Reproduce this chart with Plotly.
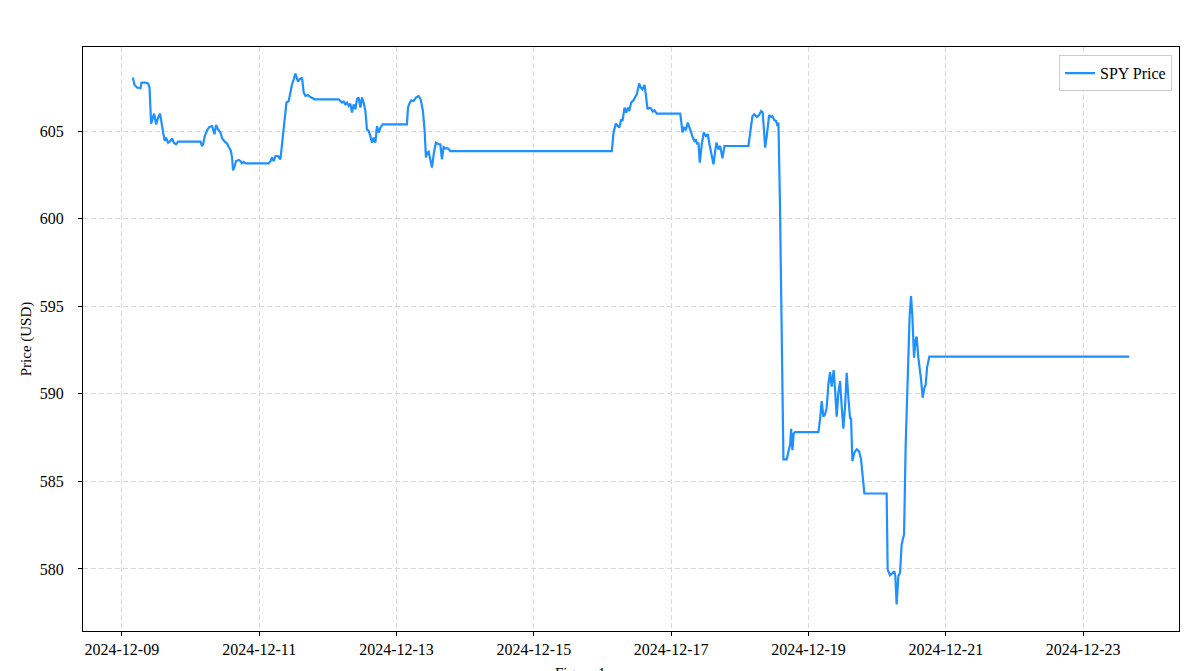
import pandas as pd
import plotly.graph_objects as go

# hours elapsed since 2024-12-09 00:00 and SPY price (USD)
hours = [
    3.84, 4.44, 5.34, 6.53, 6.88, 8.28, 9.19, 9.68, 10.23, 10.83, 11.28, 11.98, 12.68, 13.38, 13.87,
    14.43, 15.02, 15.47, 16.17, 17.01, 17.57, 18.16, 18.97, 19.67, 27.49, 28.05, 28.40, 28.99, 29.80,
    30.63, 31.54, 32.38, 32.94, 33.64, 34.48, 35.03, 35.98, 36.78, 37.38, 38.07, 38.53, 38.88, 39.47,
    39.92, 40.87, 41.46, 42.02, 42.61, 43.21, 51.35, 51.94, 52.50, 53.09, 53.69, 54.60, 55.43, 55.99,
    56.59, 57.18, 57.53, 58.33, 58.93, 59.49, 60.08, 60.67, 61.58, 62.18, 62.98, 63.57, 64.17, 65.07,
    65.91, 66.72, 67.41, 75.80, 76.39, 76.95, 77.54, 78.14, 78.70, 79.29, 79.88, 80.44, 81.04, 81.63,
    82.19, 82.78, 83.38, 83.94, 84.53, 85.12, 85.68, 86.28, 86.87, 87.43, 88.02, 88.62, 89.18, 89.77,
    90.37, 91.17, 99.66, 100.01, 100.49, 101.19, 101.99, 102.80, 103.74, 104.44, 105.24, 105.84,
    106.29, 106.78, 107.24, 107.69, 108.39, 109.09, 109.78, 110.73, 111.32, 111.88, 112.47, 113.07,
    113.98, 114.81, 115.97, 171.26, 171.86, 172.66, 173.36, 173.85, 174.55, 175.00, 175.70, 176.29,
    176.85, 177.34, 178.04, 178.84, 179.43, 179.99, 180.83, 181.39, 181.98, 182.68, 183.14, 183.73,
    184.33, 185.02, 185.58, 186.18, 186.98, 195.15, 195.50, 195.96, 196.55, 197.11, 197.81, 198.30,
    199.00, 199.56, 200.15, 200.60, 201.09, 201.55, 202.00, 202.70, 203.40, 204.10, 204.80, 205.39,
    205.98, 206.79, 207.38, 207.83, 208.53, 209.13, 209.93, 210.63, 219.01, 219.81, 220.41, 221.11,
    221.91, 222.75, 223.45, 224.01, 224.85, 225.41, 226.24, 226.94, 227.40, 228.10, 228.69, 229.14,
    229.49, 230.01, 230.64, 231.24, 232.39, 232.98, 233.58, 233.93, 234.38, 234.83, 235.32, 243.46,
    244.05, 244.61, 245.21, 245.80, 246.36, 246.95, 247.55, 248.11, 248.80, 249.29, 249.85, 250.44,
    251.04, 251.60, 252.19, 252.79, 253.35, 253.94, 254.53, 254.88, 255.34, 256.04, 256.84, 257.68,
    258.38, 258.94, 259.53, 267.32, 267.67, 268.51, 269.31, 270.01, 270.36, 270.81, 271.41, 272.00,
    272.56, 273.40, 273.96, 274.66, 275.35, 275.84, 276.30, 276.89, 277.45, 277.80, 278.40, 279.34,
    279.90, 280.49, 280.95, 281.44, 282.24, 352.09,
]
prices = [
    608.07, 607.65, 607.50, 607.46, 607.78, 607.78, 607.73, 607.50, 605.44, 605.78, 606.01, 605.40,
    605.78, 606.01, 605.44, 604.93, 604.45, 604.64, 604.35, 604.45, 604.60, 604.35, 604.26, 604.41,
    604.41, 604.16, 604.26, 604.73, 605.06, 605.25, 605.30, 604.83, 605.36, 605.11, 604.93, 604.60,
    604.41, 604.30, 604.10, 603.91, 603.50, 602.77, 603.02, 603.30, 603.36, 603.30, 603.17, 603.25,
    603.17, 603.17, 603.30, 603.50, 603.30, 603.59, 603.59, 603.40, 604.26, 605.21, 606.45, 606.64,
    606.73, 607.30, 607.69, 607.97, 608.30, 607.84, 607.97, 608.07, 607.21, 607.02, 607.07, 606.96,
    606.87, 606.83, 606.83, 606.70, 606.64, 606.70, 606.54, 606.64, 606.45, 606.58, 606.07, 606.54,
    606.26, 606.83, 606.93, 606.35, 606.93, 606.64, 606.16, 605.11, 605.02, 604.73, 604.35, 604.64,
    604.35, 605.30, 604.93, 605.21, 605.40, 605.40, 606.35, 606.58, 606.77, 606.73, 606.93, 607.02,
    606.83, 606.16, 605.02, 603.50, 603.78, 603.84, 603.40, 602.93, 603.78, 604.35, 604.26, 604.26,
    603.40, 604.10, 604.03, 604.03, 603.87, 603.87, 603.87, 604.93, 605.44, 605.30, 605.21, 605.69,
    605.59, 606.35, 606.07, 606.35, 606.16, 606.64, 606.77, 606.96, 607.11, 607.73, 607.50, 607.40,
    607.65, 607.11, 606.26, 606.35, 606.30, 606.13, 606.20, 606.01, 606.01, 605.59, 604.93, 605.25,
    605.06, 605.50, 605.21, 604.93, 604.64, 604.45, 604.54, 604.26, 604.35, 603.21, 604.26, 604.93,
    604.73, 604.83, 604.26, 603.69, 603.11, 603.87, 604.35, 603.97, 604.16, 603.46, 604.16, 604.16,
    605.11, 605.87, 605.97, 605.82, 605.93, 606.16, 606.07, 604.07, 604.73, 605.93, 605.82, 605.87,
    605.63, 605.59, 605.30, 605.50, 601.11, 593.69, 586.26, 586.26, 586.73, 587.11, 588.01, 586.79,
    587.74, 587.82, 587.82, 588.54, 589.59, 588.70, 588.83, 589.21, 590.54, 591.25, 590.41, 591.36,
    590.26, 588.70, 590.07, 590.73, 589.30, 588.01, 589.30, 591.21, 589.78, 588.58, 588.64, 586.16,
    586.64, 586.83, 586.73, 586.26, 585.30, 584.31, 584.31, 579.97, 579.63, 579.78, 579.87, 579.59,
    577.97, 579.59, 579.78, 581.40, 581.97, 587.02, 590.83, 594.45, 595.59, 594.45, 592.07, 593.11,
    593.27, 592.07, 590.83, 589.78, 590.35, 590.49, 591.50, 592.13, 592.13,
]
series_name = "SPY Price"
y_title = "Price (USD)"
caption = "Figure 1"
y_ticks = [580, 585, 590, 595, 600, 605]

start = pd.Timestamp("2024-12-09 00:00")
times = [start + pd.Timedelta(hours=h) for h in hours]

# matplotlib-style 5% margins
hspan = max(hours) - min(hours)
x_lo = start + pd.Timedelta(hours=min(hours) - 0.05 * hspan)
x_hi = start + pd.Timedelta(hours=max(hours) + 0.05 * hspan)
pspan = max(prices) - min(prices)
y_lo = min(prices) - 0.05 * pspan
y_hi = max(prices) + 0.05 * pspan

font_family = "Liberation Serif, Times New Roman, serif"

fig = go.Figure()
fig.add_trace(go.Scatter(
    x=times, y=prices, mode="lines", name=series_name,
    line=dict(color="#1E90FF", width=2.2),
))

grid = dict(showgrid=True, gridcolor="#d9d9d9", griddash="5px,3px", gridwidth=1)
axis_line = dict(showline=True, linecolor="black", linewidth=1.2, mirror=True,
                 ticks="outside", ticklen=4, tickcolor="black", tickwidth=1,
                 zeroline=False, automargin=False)

# page body has an 8px margin, so the figure is sized to fit the window
fig.update_layout(
    width=1193, height=663,
    margin=dict(l=75, r=22, t=39, b=40),
    paper_bgcolor="white", plot_bgcolor="white",
    font=dict(family=font_family, size=16, color="black"),
    showlegend=True,
    legend=dict(x=0.9936, y=0.986, xanchor="right", yanchor="top",
                bgcolor="white", bordercolor="#cccccc", borderwidth=1,
                font=dict(size=16, family=font_family)),
    xaxis=dict(range=[x_lo, x_hi], tick0="2024-12-09", dtick=2 * 86400000,
               tickformat="%Y-%m-%d", tickfont=dict(size=16), **grid, **axis_line),
    yaxis=dict(range=[y_lo, y_hi], tickvals=y_ticks, tickfont=dict(size=16),
               title=dict(text=y_title, font=dict(size=15), standoff=4),
               ticklabelstandoff=11, **grid, **axis_line),
    annotations=[dict(text=caption, xref="paper", yref="paper", x=0.4535, y=-0.055,
                      xanchor="center", yanchor="top", showarrow=False,
                      font=dict(size=15, family=font_family))],
)

fig.write_html("out.html")
